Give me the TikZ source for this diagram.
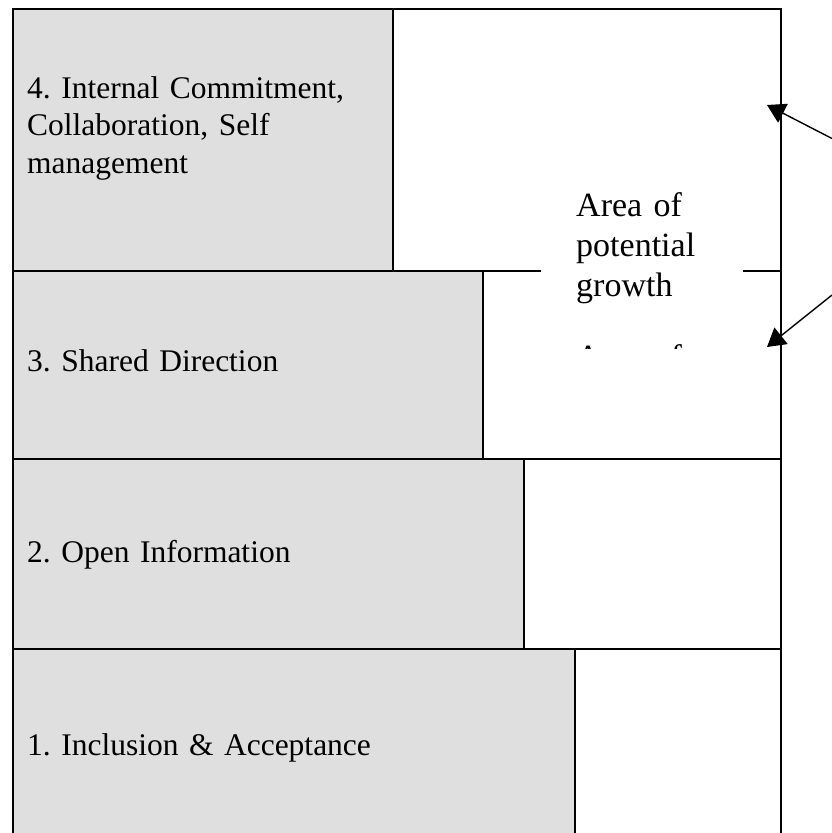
\documentclass[tikz,border=0pt]{standalone}
\usepackage{fontspec}
\setmainfont{Liberation Serif}
\frenchspacing
\usepackage{tikz}
\usetikzlibrary{positioning, arrows.meta}
\definecolor{cellgray}{RGB}{223,223,223}
\tikzstyle{graycell} = [rectangle, draw=black, fill=cellgray, line width=2.2pt, outer sep=0pt, inner sep=0pt, anchor=north west]
\tikzstyle{whitecell} = [rectangle, draw=black, fill=white, line width=2.2pt, outer sep=0pt, inner sep=0pt]
\tikzstyle{rowtext} = [anchor=base west, inner sep=0pt, text width=500pt, align=left, font=\fontsize{31.5}{37.5}\selectfont]
\tikzstyle{growthtext} = [anchor=base west, inner sep=0pt, text width=170pt, align=left, font=\fontsize{34}{40}\selectfont]
\tikzstyle{arrow} = [line width=1.4pt, -{Triangle[length=18pt, width=21pt]}]

\begin{document}
\begin{tikzpicture}[x=1pt, y=-1pt]
		\useasboundingbox (0,0) rectangle (832,833);
		\node (g4) [graycell, minimum width=380pt, minimum height=261.7pt] at (13,9) {};
		\node (w4) [whitecell, right=0pt of g4, minimum width=388pt, minimum height=261.7pt] {};
		\node (g3) [graycell, minimum width=470pt, minimum height=188.6pt] at (g4.south west) {};
		\node (w3) [whitecell, right=0pt of g3, minimum width=298pt, minimum height=188.6pt] {};
		\node (g2) [graycell, minimum width=511pt, minimum height=189.7pt] at (g3.south west) {};
		\node (w2) [whitecell, right=0pt of g2, minimum width=257pt, minimum height=189.7pt] {};
		\node (g1) [graycell, minimum width=562pt, minimum height=200pt] at (g2.south west) {};
		\node (w1) [whitecell, right=0pt of g1, minimum width=206pt, minimum height=200pt] {};
		\node (t4) [rowtext] at (27,98) {4. Internal Commitment,\\Collaboration, Self\\management};
		\node (t3) [rowtext] at (27,371) {3. Shared Direction};
		\node (t2) [rowtext] at (27,562) {2. Open Information};
		\node (t1) [rowtext] at (27,755) {1. Inclusion \& Acceptance};
		\node (gbox) [fill=white, inner sep=0pt, minimum width=202pt, minimum height=150pt] at (642,273) {};
		\node (growth) [growthtext] at (576,216.7) {Area of\\potential\\growth};
		\begin{scope}
			\clip (560,330) rectangle (720,348);
			\node (echo) [growthtext] at (576,368) {Area of};
		\end{scope}
		\coordinate (src1) at (832,138.5);
		\coordinate (src2) at (832,295);
		\coordinate (tip1) at (767,105);
		\coordinate (tip2) at (767,347);
		\draw [arrow] (src1) -- (tip1);
		\draw [arrow] (src2) -- (tip2);
	\end{tikzpicture}
\end{document}
